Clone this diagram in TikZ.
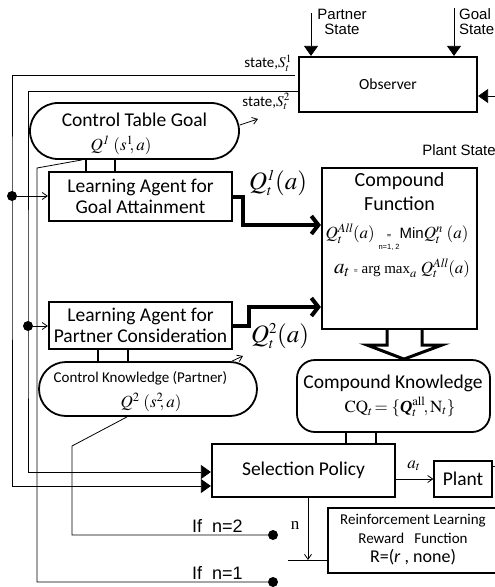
\documentclass[tikz,border=0pt]{standalone}
\usepackage{mathptmx}
\usepackage[no-math]{fontspec}
\setmainfont{Carlito}
\newfontfamily\arialf{Liberation Sans}
\newfontfamily\tnrf{Liberation Serif}
\usetikzlibrary{arrows.meta}
\newcommand\fs[2]{\fontsize{#1}{#2}\selectfont}
\begin{document}
\begin{tikzpicture}[x=1pt,y=-1pt,
  box/.style={draw,line width=2.2pt,inner sep=0pt,align=center,font=\fs{19.5}{21}},
  capsule/.style={draw,line width=1.8pt,inner sep=0pt,align=center},
  thinl/.style={line width=0.8pt},
  arr/.style={line width=0.8pt,-{Straight Barb[length=5pt,width=7pt]}},
  tri/.style={line width=0.8pt,-{Triangle[length=10pt,width=14pt]}},
  bigarr/.style={line width=4pt,-{Straight Barb[length=7pt,width=18pt]}},
  link/.style={line width=1.6pt},
  bullet/.style={circle,fill,inner sep=0pt,minimum size=10pt},
  lbl/.style={inner sep=0pt},
]
\path[fill=white,use as bounding box] (0,0) rectangle (495,587);

% helper coordinates
\coordinate (y91) at (0,91);
\coordinate (y125) at (0,125);
\coordinate (y225) at (0,225);
\coordinate (y307) at (0,307);
\coordinate (y472) at (0,472);
\coordinate (y486) at (0,486);
\coordinate (x82) at (82,0);
\coordinate (x86) at (86,0);
\coordinate (x115) at (115,0);
\coordinate (x98) at (98,0);
\coordinate (x127) at (127,0);
\coordinate (x128) at (128,0);
\coordinate (x232) at (232,0);
\coordinate (x243) at (243,0);
\coordinate (x249) at (249,0);
\coordinate (x346) at (346,0);
\coordinate (x376) at (376,0);
\coordinate (x387) at (387,0);
\coordinate (x404) at (404,0);
\coordinate (x422) at (422,0);
\coordinate (nx) at (308,0);

% main nodes
\node[box,minimum width=178pt,minimum height=55pt,font=\fs{15.5}{17}] (obs) at (388,84.5) {Observer};
\node[capsule,rounded corners=28pt,minimum width=209pt,minimum height=56pt] (ctg) at (134.5,131) {};
\node[lbl,font=\fs{19.5}{21}] (ctgt) at (134.5,120) {Control Table Goal};
\node[lbl,font=\fs{17}{20}] (ctgq) at (121,145) {$Q^{\mathit{1}}\ (s^{1}\!\!,a)$};
\node[box,minimum width=183pt,minimum height=49pt] (lag) at (140.5,196.5) {Learning Agent for\\Goal Attainment};
\node[box,minimum width=183pt,minimum height=47pt] (lap) at (140.5,325.5) {Learning Agent for\\Partner Consideration};
\node[capsule,rounded corners=27pt,minimum width=218pt,minimum height=54pt] (ckp) at (148,389) {};
\node[lbl,font=\fs{15}{17}] (ckpt) at (140.5,378) {Control Knowledge (Partner)};
\node[lbl,font=\fs{17}{20}] (ckpq) at (151,402) {$Q^{2}\ (s^{2}\!\!,a)$};
\node[box,minimum width=155pt,minimum height=161pt] (cf) at (399.5,248.5) {};
\node[lbl,align=center,font=\fs{20}{24}] (cftitle) at (399.5,192) {Compound\\Function};
\node[lbl,font=\fs{17}{20}] (cfeq1) at (397,238)
  {$Q_t^{\mathit{All}}(a)\,\mathop{\mbox{\fs{9}{9}=}}\limits_{\mbox{\arialf\fs{7.5}{8}n=1, 2}}\!\mbox{\arialf\fs{15}{15}Min}Q_t^{n}\ (a)$};
\node[lbl,font=\fs{17}{20}] (cfeq2) at (402,268)
  {$\mbox{\fs{21}{21}$a_t$}\ \mbox{\fs{8}{8}=}\ \mbox{\tnrf\fs{15}{15}arg max}_{a}\ Q_t^{\mathit{All}}(a)$};
\node[capsule,rounded corners=18pt,minimum width=193pt,minimum height=72pt] (ck) at (393.5,396) {};
\node[lbl,font=\fs{19.5}{21}] (ckt) at (393,383) {Compound Knowledge};
\node[lbl,font=\fs{17}{20}] (ckq) at (400,407)
  {$\mathrm{CQ}_t\!=\{\mbox{\tnrf\bfseries\itshape Q}_t^{\mathrm{all}}\!,\mathrm{N}_t\}$};
\node[box,minimum width=183pt,minimum height=53pt] (sp) at (303.5,470.5) {\raisebox{-6pt}{Selection Policy}};
\node[draw,line width=1.3pt,inner sep=0pt,minimum width=58pt,minimum height=36pt,font=\fs{19.5}{21}] (plant) at (463,479) {Plant};
\node[draw,line width=2.2pt,minimum width=177pt,minimum height=65pt] (rl) at (416.5,540.5) {};
\node[lbl,align=center,font=\fs{15}{19}] (rltext) at (413,540)
  {Reinforcement Learning\\Reward\ \ \ Function\\ \fs{18}{21}R=(\textit{r} , none)};

% dots
\node[bullet] (d1) at (12,196) {};
\node[bullet] (d2) at (28,326) {};
\node[bullet] (n2dot) at (273,535) {};
\node[bullet] (n1dot) at (273,582) {};

% labels
\node[lbl,align=center,font=\arialf\fs{15}{15}] (pslab) at (342,22) {Partner\\State};
\node[lbl,anchor=west,align=left,font=\arialf\fs{15}{15}] (gslab) at (459,22) {Goal\\State};
\node[lbl,font=\arialf\fs{15}{15}] (plslab) at (459,150) {Plant State};
\node[lbl,anchor=south east,font=\fs{15}{16}] (s1lab) at (292,72) {state,$S_t^{1}$};
\node[lbl,anchor=north east,font=\fs{15}{16}] (s2lab) at (290,93) {state,$S_t^{2}$};
\node[lbl,font=\fs{25}{25}] (q1lab) at (278,183) {$Q_{\scriptscriptstyle t}^{\scriptscriptstyle\mathit{1}}(a)$};
\node[lbl,font=\fs{25}{25}] (q2lab) at (280,336) {$Q_{\scriptscriptstyle t}^{\scriptscriptstyle 2}(a)$};
\node[lbl,anchor=west,font=\arialf\fs{18}{18}] (if2) at (192,526) {If\ \ n=2};
\node[lbl,anchor=west,font=\arialf\fs{18}{18}] (if1) at (192,573) {If\ \ n=1};
\node[lbl,font=\tnrf\fs{17}{17}] (nlab) at (295,525) {n};
\node[lbl,font=\fs{17}{17}] (atlab) at (414,466) {$a_t$};

% observer inputs
\coordinate (psin) at (311,13);
\coordinate (gsin) at (454,8);
\coordinate (plin) at (495,96);
\draw[tri] (psin) -- (obs.north -| psin);
\draw[tri] (gsin) -- (obs.north -| gsin);
\draw[tri] (plin) -- (obs.east |- plin);

% state feedback lines
\coordinate (s1e) at (295,75);
\draw[tri] (s1e) -| (d1.center) |- (sp.west |- y486);
\draw[tri] (obs.west |- y91) -| (d2.center) |- (sp.west |- y472);
\draw[arr] (d1) -- (d1 -| lag.west);
\draw[arr] (d2) -- (d2 -| lap.west);

% table lines to n selectors
\coordinate (c37) at (37,168);
\coordinate (c72) at (72,446);
\draw[thinl] (ctg.south -| x82) -- (c37) |- (n1dot);
\draw[thinl] (ckp.south -| x127) -- (c72) |- (n2dot);

% small arrows out of tables
\coordinate (ctgout) at (258,119);
\coordinate (ckpout) at (243,356);
\draw[arr] (ctg.east |- y125) -- (ctgout);
\draw[arr] (ckp.north -| x232) -- (ckpout);

% double links
\draw[link] (ctg.south -| x86) -- (lag.north -| x86);
\draw[link] (ctg.south -| x115) -- (lag.north -| x115);
\draw[link] (lap.south -| x98) -- (ckp.north -| x98);
\draw[link] (lap.south -| x128) -- (ckp.north -| x128);
\draw[link] (ck.south -| x346) -- (sp.north -| x346);
\draw[link] (ck.south -| x376) -- (sp.north -| x376);

% thick arrows
\draw[bigarr] (lag.east) -- (lag.east -| x243) |- (cf.west |- y225);
\draw[bigarr] (lap.east) -- (lap.east -| x249) |- (cf.west |- y307);

% hollow arrow
\draw[line width=3pt,line join=miter,fill=white] (cf.south -| x387) -- (387,345) -- (367,345) -- (ck.north -| x404) -- (442,345) -- (422,345) -- (cf.south -| x422);

% plant and reward
\coordinate (pout) at (495,466);
\coordinate (rlin) at (288,560);
\draw[arr] (sp.east |- plant.west) -- (plant.west);
\draw[thinl] (plant.east |- pout) -- (pout);
\draw[thinl] (rlin) -- (rlin -| rl.west);
\draw[arr] (sp.south -| nx) -- (nx |- rlin);
\end{tikzpicture}
\end{document}
